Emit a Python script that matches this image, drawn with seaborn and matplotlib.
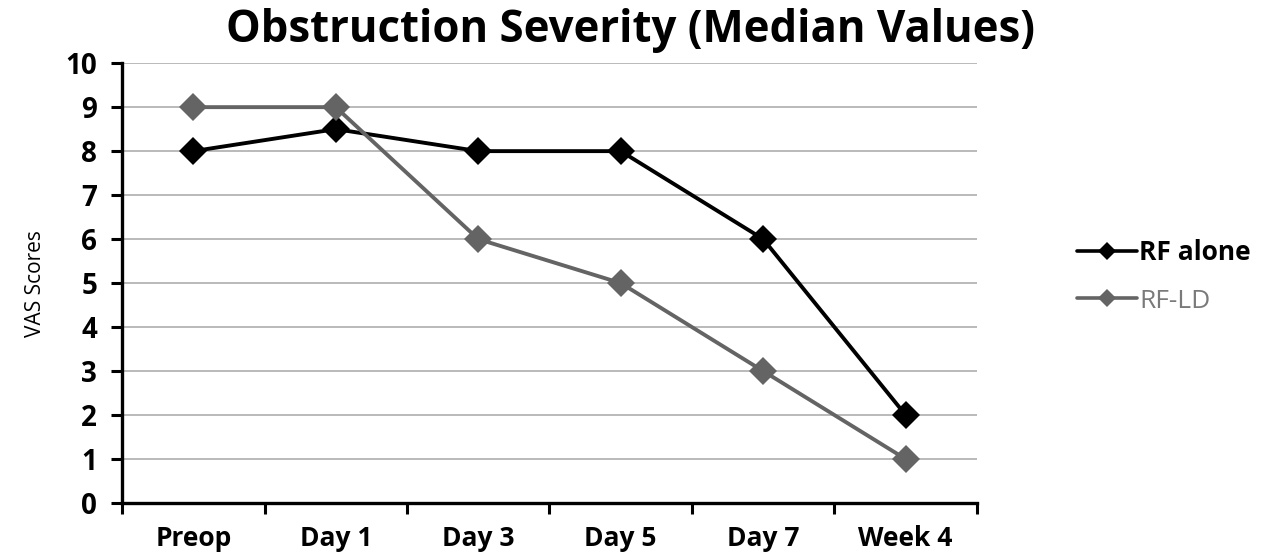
import matplotlib
matplotlib.use("Agg")
import matplotlib.pyplot as plt
import pandas as pd
import seaborn as sns
from matplotlib.lines import Line2D
from matplotlib.ticker import FixedLocator

sns.set_style("white")
plt.rcParams["font.family"] = ["Open Sans", "DejaVu Sans"]
plt.rcParams["text.color"] = "black"
plt.rcParams["axes.labelcolor"] = "black"
plt.rcParams["xtick.color"] = "black"
plt.rcParams["ytick.color"] = "black"

categories = ["Preop", "Day 1", "Day 3", "Day 5", "Day 7", "Week 4"]
rf_alone = [8, 8.5, 8, 8, 6, 2]
rf_ld = [9, 9, 6, 5, 3, 1]
series_names = ["RF alone", "RF-LD"]
colors = {"RF alone": "#000000", "RF-LD": "#646464"}

df = pd.concat([
    pd.DataFrame({"Time": categories, "VAS": rf_alone, "Group": series_names[0]}),
    pd.DataFrame({"Time": categories, "VAS": rf_ld, "Group": series_names[1]}),
])

fig = plt.figure(figsize=(12.74, 5.54), dpi=100)
ax = fig.add_axes([0.0958, 0.092, 0.671, 0.794])

sns.lineplot(data=df, x="Time", y="VAS", hue="Group", palette=colors, marker="D",
             markersize=14, markeredgewidth=0, linewidth=2.8, sort=False, ax=ax,
             legend=False)

ax.set_xlim(-0.5, 5.5)
ax.set_ylim(0, 10)
ax.set_yticks(range(0, 11))
ax.yaxis.grid(True, color="#b4b4b4", linewidth=1.3)
ax.set_axisbelow(True)
for s in ["top", "right"]:
    ax.spines[s].set_visible(False)
for s in ["left", "bottom"]:
    ax.spines[s].set_color("black")
    ax.spines[s].set_linewidth(2.4)

ax.tick_params(axis="y", left=True, direction="out", length=8, width=2.2,
               labelsize=20, pad=10)
ax.tick_params(axis="x", which="major", bottom=False, length=0, labelsize=19, pad=16)
ax.xaxis.set_minor_locator(FixedLocator([i - 0.5 for i in range(len(categories) + 1)]))
ax.tick_params(axis="x", which="minor", bottom=True, direction="out", length=8, width=2.2)
for lab in ax.get_xticklabels() + ax.get_yticklabels():
    lab.set_fontweight("bold")

ax.set_xlabel("")
ax.set_ylabel("VAS Scores", fontsize=15, labelpad=14)
fig.suptitle("Obstruction Severity (Median Values)", x=0.495, y=0.985,
             fontsize=31.5, fontweight="bold")

handles = [Line2D([], [], color=colors[n], marker="D", markersize=9,
                  markeredgewidth=0, linewidth=2.6) for n in series_names]
leg = ax.legend(handles, series_names, loc="center left", bbox_to_anchor=(1.095, 0.515),
                frameon=False, fontsize=19, handlelength=2.3, handletextpad=0.08,
                labelspacing=0.85, borderpad=0.2)
for txt, name in zip(leg.get_texts(), series_names):
    if name == "RF alone":
        txt.set_fontweight("bold")
    else:
        txt.set_color("#7a7a7a")

fig.savefig("out.png", dpi=100)
